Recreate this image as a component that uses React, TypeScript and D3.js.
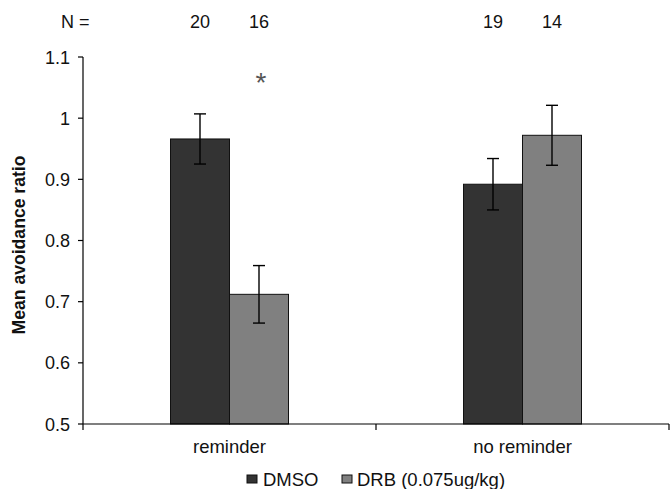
import React from "react";
import * as d3 from "d3";

const categories = ["reminder", "no reminder"];
const seriesNames = ["DMSO", "DRB (0.075ug/kg)"];
const dmsoValues = [0.966, 0.892];
const dmsoErrors = [0.041, 0.042];
const drbValues = [0.712, 0.972];
const drbErrors = [0.047, 0.049];
const nDmso = ["20", "19"];
const nDrb = ["16", "14"];
const yTicks = [0.5, 0.6, 0.7, 0.8, 0.9, 1, 1.1];
const colors = ["#333333", "#808080"];

const W = 670;
const H = 489;
const left = 83;
const right = 669;
const top = 57;
const bottom = 424;
const font = "'Liberation Sans', Arial, sans-serif";

export default function App() {
  const y = d3.scaleLinear().domain([0.5, 1.1]).range([bottom, top]);
  const x0 = d3.scaleBand().domain(categories).range([left, right]);
  const x1 = d3.scaleBand().domain(seriesNames).range([0, 118]);
  const groupOffset = (x0.bandwidth() - 118) / 2;

  const series = [
    { name: seriesNames[0], values: dmsoValues, errors: dmsoErrors, n: nDmso },
    { name: seriesNames[1], values: drbValues, errors: drbErrors, n: nDrb },
  ];

  return (
    <svg width={W} height={H} style={{ position: "absolute", left: 0, top: 0, background: "#fff" }} fontFamily={font} fill="#111">
      {/* y axis */}
      <line x1={left} x2={left} y1={top} y2={bottom} stroke="#000" strokeWidth={1.2} />
      {yTicks.map((t) => (
        <g key={t}>
          <line x1={left - 5} x2={left} y1={y(t)} y2={y(t)} stroke="#000" strokeWidth={1.2} />
          <text x={left - 13} y={y(t) + 6.5} textAnchor="end" fontSize={18}>
            {String(t)}
          </text>
        </g>
      ))}
      <text
        transform={`translate(25,${245}) rotate(-90)`}
        textAnchor="middle"
        fontSize={17.6}
        fontWeight="bold"
      >
        Mean avoidance ratio
      </text>

      {/* bars */}
      {categories.map((c, i) => (
        <g key={c} transform={`translate(${(x0(c) as number) + groupOffset},0)`}>
          {series.map((s, j) => {
            const bx = x1(s.name) as number;
            const cx = bx + x1.bandwidth() / 2;
            const v = s.values[i];
            const e = s.errors[i];
            return (
              <g key={s.name}>
                <rect
                  x={bx}
                  y={y(v)}
                  width={x1.bandwidth()}
                  height={bottom - y(v)}
                  fill={colors[j]}
                  stroke="#111"
                  strokeWidth={1}
                />
                <line x1={cx} x2={cx} y1={y(v + e)} y2={y(v - e)} stroke="#000" strokeWidth={1.4} />
                <line x1={cx - 6} x2={cx + 6} y1={y(v + e)} y2={y(v + e)} stroke="#000" strokeWidth={1.4} />
                <line x1={cx - 6} x2={cx + 6} y1={y(v - e)} y2={y(v - e)} stroke="#000" strokeWidth={1.4} />
                <text x={cx} y={28} textAnchor="middle" fontSize={18}>
                  {s.n[i]}
                </text>
              </g>
            );
          })}
        </g>
      ))}

      {/* significance */}
      <text
        x={(x0("reminder") as number) + groupOffset + (x1(seriesNames[1]) as number) + x1.bandwidth() / 2 + 2}
        y={92}
        textAnchor="middle"
        fontSize={28}
        fill="#555"
      >
        *
      </text>
      <text x={61} y={28} fontSize={18}>N =</text>

      {/* x axis */}
      <line x1={left} x2={right} y1={bottom} y2={bottom} stroke="#000" strokeWidth={1.2} />
      {[left, (left + right) / 2, right].map((t) => (
        <line key={t} x1={t} x2={t} y1={bottom} y2={bottom + 6} stroke="#000" strokeWidth={1.2} />
      ))}
      {categories.map((c) => (
        <text key={c} x={(x0(c) as number) + x0.bandwidth() / 2} y={453} textAnchor="middle" fontSize={18.5}>
          {c}
        </text>
      ))}

      {/* legend */}
      <g transform="translate(247,475)">
        <rect x={0} y={0} width={10} height={8} fill={colors[0]} stroke="#111" />
        <text x={16} y={11} fontSize={18.5}>{seriesNames[0]}</text>
        <rect x={95} y={0} width={10} height={8} fill={colors[1]} stroke="#111" />
        <text x={110} y={11} fontSize={18.5}>{seriesNames[1]}</text>
      </g>
    </svg>
  );
}
